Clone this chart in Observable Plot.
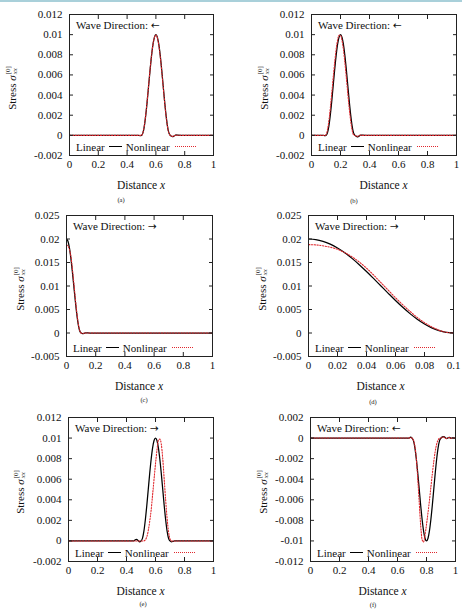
<!DOCTYPE html>
<html><head><meta charset="utf-8">
<script src="https://cdn.jsdelivr.net/npm/d3@7"></script>
<script src="https://cdn.jsdelivr.net/npm/@observablehq/plot@0.6"></script>
<style>
body{margin:0;background:#fff;}
#root{position:relative;width:462px;height:611px;overflow:hidden;font-family:'Liberation Serif',serif;color:#111;background:#fff;}
#stripe{position:absolute;left:0;top:0;width:462px;height:2px;background:#a9d0da;}
.plot{position:absolute;}
.ylab{position:absolute;white-space:nowrap;font-size:11px;display:flex;align-items:center;transform:translate(-50%,-50%) rotate(-90deg);}
.ss{display:inline-flex;flex-direction:column;font-size:7px;line-height:7px;margin-left:1px;}
.xlab{position:absolute;white-space:nowrap;font-size:11.5px;transform:translate(-50%,-50%);}
.cap{position:absolute;white-space:nowrap;font-size:6.5px;transform:translate(-50%,-50%);}
.dir{position:absolute;white-space:nowrap;font-size:11px;transform:translateY(-50%);}
.arr{font-family:'DejaVu Sans',sans-serif;font-size:10.5px;}
.leg{position:absolute;white-space:nowrap;font-size:11px;display:flex;align-items:center;transform:translateY(-50%);}
.sl{display:inline-block;width:13px;height:0;border-top:1.3px solid #000;margin:0 4px 0 4px;}
.sn{display:inline-block;width:21px;height:0;border-top:1.2px dotted #e0282e;margin-left:5px;}
</style></head><body><div id="root"><div id="stripe"></div></div>
<script>
// ---------- tick values & labels ----------
const xTicks01 = [0, 0.2, 0.4, 0.6, 0.8, 1];
const xLabels01 = ["0", "0.2", "0.4", "0.6", "0.8", "1"];
const xTicksD = [0, 0.02, 0.04, 0.06, 0.08, 0.1];
const xLabelsD = ["0", "0.02", "0.04", "0.06", "0.08", "0.1"];
const yTicksA = [-0.002, 0, 0.002, 0.004, 0.006, 0.008, 0.01, 0.012];
const yLabelsA = ["-0.002", "0", "0.002", "0.004", "0.006", "0.008", "0.01", "0.012"];
const yTicksC = [-0.005, 0, 0.005, 0.01, 0.015, 0.02, 0.025];
const yLabelsC = ["-0.005", "0", "0.005", "0.01", "0.015", "0.02", "0.025"];
const yTicksF = [-0.012, -0.01, -0.008, -0.006, -0.004, -0.002, 0, 0.002];
const yLabelsF = ["-0.012", "-0.01", "-0.008", "-0.006", "-0.004", "-0.002", "0", "0.002"];

const captions = ["(a)", "(b)", "(c)", "(d)", "(e)", "(f)"];
const directionLabel = "Wave Direction:";
const directionArrows = ["\u2190", "\u2190", "\u2192", "\u2192", "\u2192", "\u2190"];
const seriesNames = ["Linear", "Nonlinear"];

// ---------- series (a) ----------
const xA = [0, 0.40, 0.48, 0.49, 0.50, 0.51, 0.52, 0.53, 0.54, 0.55, 0.56, 0.57, 0.58, 0.59, 0.60, 0.61, 0.62, 0.63, 0.64, 0.65, 0.66, 0.67, 0.68, 0.69, 0.70, 0.71, 0.72, 0.73, 0.74, 0.75, 0.80, 1];
const linA = [0, 0, 0, -0.00003, 0, 0.00025, 0.00095, 0.00206, 0.00345, 0.005, 0.00655, 0.00794, 0.00905, 0.00976, 0.01, 0.00976, 0.00905, 0.00794, 0.00655, 0.005, 0.00345, 0.00206, 0.00095, 0.00025, 0, -0.0001, -0.00012, -0.00002, 0.00004, 0.00002, 0, 0];
const nonA = [0, 0, 0, 0, 0, 0.00028, 0.001, 0.00212, 0.00352, 0.00507, 0.0066, 0.00797, 0.00905, 0.00973, 0.00995, 0.00969, 0.00897, 0.00786, 0.00648, 0.00493, 0.0034, 0.00202, 0.00093, 0.00024, 0, -0.00008, -0.0001, -0.00002, 0.00003, 0.00001, 0, 0];

// ---------- series (b) ----------
const xB = [0, 0.05, 0.08, 0.09, 0.10, 0.11, 0.12, 0.13, 0.14, 0.15, 0.16, 0.17, 0.18, 0.19, 0.20, 0.21, 0.22, 0.23, 0.24, 0.25, 0.26, 0.27, 0.28, 0.29, 0.30, 0.31, 0.32, 0.33, 0.34, 0.35, 0.40, 1];
const linB = [0, 0, 0, -0.00003, 0, 0.00025, 0.00095, 0.00206, 0.00345, 0.005, 0.00655, 0.00794, 0.00905, 0.00976, 0.01, 0.00976, 0.00905, 0.00794, 0.00655, 0.005, 0.00345, 0.00206, 0.00095, 0.00025, 0, -0.0001, -0.00015, -0.00005, 0.00003, 0.00002, 0, 0];
const nonB = [0, 0, 0, 0, 0.00006, 0.00055, 0.00146, 0.00273, 0.00422, 0.00578, 0.00727, 0.00854, 0.00946, 0.00994, 0.00994, 0.00946, 0.00854, 0.00727, 0.00578, 0.00422, 0.00273, 0.00146, 0.00055, 0.00006, 0, -0.0001, -0.00008, 0, 0.00002, 0, 0, 0];

// ---------- series (c) ----------
const xC = [0, 0.01, 0.02, 0.03, 0.04, 0.05, 0.06, 0.07, 0.08, 0.09, 0.10, 0.11, 0.12, 0.13, 0.14, 0.16, 0.20, 1];
const linC = [0.02, 0.01951, 0.01809, 0.01588, 0.01309, 0.01, 0.00691, 0.00412, 0.00191, 0.00049, 0, -0.00012, -0.00008, 0.00003, 0.00002, 0, 0, 0];
const nonC = [0.0188, 0.0185, 0.0178, 0.0163, 0.0138, 0.0107, 0.0075, 0.0045, 0.0021, 0.0006, 0, -0.0001, -0.00005, 0.00002, 0, 0, 0, 0];

// ---------- series (d) ----------
const xD = [0, 0.005, 0.01, 0.015, 0.02, 0.025, 0.03, 0.035, 0.04, 0.045, 0.05, 0.055, 0.06, 0.065, 0.07, 0.075, 0.08, 0.085, 0.09, 0.095, 0.1];
const linD = [0.02, 0.01988, 0.01951, 0.01891, 0.01809, 0.01707, 0.01588, 0.01454, 0.01309, 0.01156, 0.01, 0.00844, 0.00691, 0.00546, 0.00412, 0.00293, 0.00191, 0.00109, 0.00049, 0.00012, 0];
const nonD = [0.0188, 0.01875, 0.01855, 0.01825, 0.0178, 0.0171, 0.0162, 0.0151, 0.0138, 0.0123, 0.0107, 0.0091, 0.0075, 0.006, 0.0046, 0.0033, 0.0022, 0.0013, 0.0006, 0.00015, 0];

// ---------- series (e) ----------
const xE = [0, 0.40, 0.45, 0.46, 0.47, 0.48, 0.49, 0.50, 0.51, 0.52, 0.53, 0.54, 0.55, 0.56, 0.57, 0.58, 0.59, 0.60, 0.61, 0.62, 0.63, 0.64, 0.65, 0.66, 0.67, 0.68, 0.69, 0.70, 0.71, 0.72, 0.73, 0.74, 0.75, 0.80, 1];
const linE = [0, 0, 0, 0.0001, 0.00014, 0.00004, -0.0001, 0, 0.00025, 0.00095, 0.00206, 0.00345, 0.005, 0.00655, 0.00794, 0.00905, 0.00976, 0.01, 0.00976, 0.00905, 0.00794, 0.00655, 0.005, 0.00345, 0.00206, 0.00095, 0.00025, 0, -0.00008, -0.00005, 0, 0, 0, 0, 0];
const nonE = [0, 0, 0, 0, 0, 0, 0, 0, 0, 0, 0.0001, 0.0004, 0.001, 0.0019, 0.003, 0.0045, 0.006, 0.0075, 0.0088, 0.0098, 0.0099, 0.0094, 0.008, 0.006, 0.004, 0.0022, 0.0009, 0.0002, 0, 0, 0, 0, 0, 0, 0];

// ---------- series (f) ----------
const xF = [0, 0.50, 0.68, 0.69, 0.70, 0.71, 0.72, 0.73, 0.74, 0.75, 0.76, 0.77, 0.78, 0.79, 0.80, 0.81, 0.82, 0.83, 0.84, 0.85, 0.86, 0.87, 0.88, 0.89, 0.90, 0.91, 0.92, 0.93, 0.94, 0.95, 0.96, 0.97, 0.98, 0.99, 1];
const linF = [0, 0, 0, 0.0001, 0, -0.00025, -0.00095, -0.00206, -0.00345, -0.005, -0.00655, -0.00794, -0.00905, -0.00976, -0.01, -0.00976, -0.00905, -0.00794, -0.00655, -0.005, -0.00345, -0.00206, -0.00095, -0.00025, 0, 0.00012, 0.00015, 0.00002, -0.00006, 0.00004, 0.00006, -0.00004, 0.00003, 0, 0];
const nonF = [0, 0, 0, 0.00005, 0, -0.0002, -0.0008, -0.002, -0.004, -0.0063, -0.0085, -0.0099, -0.0101, -0.0094, -0.0084, -0.0073, -0.0061, -0.0048, -0.0035, -0.0023, -0.0013, -0.0006, -0.0002, 0, 0, 0.00008, 0.0001, 0, -0.00004, 0.00003, 0.00004, -0.00002, 0.00002, 0, 0];

// ---------- layout ----------
const FONT = "'Liberation Serif',serif";
const RED = "#e0282e";
const ML = 50, MR = 10, MT = 10, MB = 30;

const panels = [
  {l: 69, t: 14, r: 213, b: 155, xs: xA, lin: linA, non: nonA, xD: [0, 1], xT: xTicks01, xL: xLabels01, yD: [-0.002, 0.012], yT: yTicksA, yL: yLabelsA, ylx: 12, capx: 121, capy: 199},
  {l: 311, t: 14, r: 456, b: 155, xs: xB, lin: linB, non: nonB, xD: [0, 1], xT: xTicks01, xL: xLabels01, yD: [-0.002, 0.012], yT: yTicksA, yL: yLabelsA, ylx: 264, capx: 354, capy: 200},
  {l: 66, t: 215, r: 212, b: 356, xs: xC, lin: linC, non: nonC, xD: [0, 1], xT: xTicks01, xL: xLabels01, yD: [-0.005, 0.025], yT: yTicksC, yL: yLabelsC, ylx: 20, capx: 144, capy: 399},
  {l: 308, t: 215, r: 453, b: 356, xs: xD, lin: linD, non: nonD, xD: [0, 0.1], xT: xTicksD, xL: xLabelsD, yD: [-0.005, 0.025], yT: yTicksC, yL: yLabelsC, ylx: 262, capx: 373, capy: 401},
  {l: 68, t: 417, r: 213, b: 561, xs: xE, lin: linE, non: nonE, xD: [0, 1], xT: xTicks01, xL: xLabels01, yD: [-0.002, 0.012], yT: yTicksA, yL: yLabelsA, ylx: 20, capx: 143, capy: 603},
  {l: 310, t: 417, r: 455, b: 561, xs: xF, lin: linF, non: nonF, xD: [0, 1], xT: xTicks01, xL: xLabels01, yD: [-0.012, 0.002], yT: yTicksF, yL: yLabelsF, ylx: 263, capx: 373, capy: 604}
];

const root = document.getElementById("root");

panels.forEach((p, k) => {
  const idx = d3.range(p.xs.length);
  const w = p.r - p.l + ML + MR, h = p.b - p.t + MT + MB;
  const fx = d => p.xL[p.xT.indexOf(d)];
  const fy = d => p.yL[p.yT.indexOf(d)];
  const blank = () => "";
  const svg = Plot.plot({
    width: w, height: h,
    marginLeft: ML, marginRight: MR, marginTop: MT, marginBottom: MB,
    x: {domain: p.xD},
    y: {domain: p.yD},
    style: {fontFamily: FONT, fontSize: "11px", background: "transparent", color: "#111", overflow: "visible"},
    marks: [
      Plot.line(idx, {x: i => p.xs[i], y: i => p.lin[i], stroke: "#000", strokeWidth: 1.25, curve: "monotone-x", clip: true}),
      Plot.line(idx, {x: i => p.xs[i], y: i => p.non[i], stroke: RED, strokeWidth: 1.1, strokeDasharray: "1.3,1.5", curve: "monotone-x", clip: true}),
      Plot.frame({stroke: "#222", strokeWidth: 1}),
      Plot.axisX({anchor: "bottom", ticks: p.xT, tickSize: -4, tickFormat: blank, label: null, stroke: "#222"}),
      Plot.axisX({anchor: "top", ticks: p.xT, tickSize: -4, tickFormat: blank, label: null, stroke: "#222"}),
      Plot.axisY({anchor: "left", ticks: p.yT, tickSize: -4, tickFormat: blank, label: null, stroke: "#222"}),
      Plot.axisY({anchor: "right", ticks: p.yT, tickSize: -4, tickFormat: blank, label: null, stroke: "#222"}),
      Plot.axisX({anchor: "bottom", ticks: p.xT, tickSize: 0, tickPadding: 5, tickFormat: fx, label: null, fill: "#111"}),
      Plot.axisY({anchor: "left", ticks: p.yT, tickSize: 0, tickPadding: 7, tickFormat: fy, label: null, fill: "#111"})
    ]
  });
  svg.classList.add("plot");
  svg.style.left = (p.l - ML) + "px";
  svg.style.top = (p.t - MT) + "px";
  root.appendChild(svg);

  // wave direction
  const dr = document.createElement("div");
  dr.className = "dir";
  dr.innerHTML = `${directionLabel} <span class="arr">${directionArrows[k]}</span>`;
  dr.style.left = (p.l + 7) + "px";
  dr.style.top = (p.t + 11) + "px";
  root.appendChild(dr);

  // y label
  const yl = document.createElement("div");
  yl.className = "ylab";
  yl.innerHTML = 'Stress&nbsp;<i>\u03c3</i><span class="ss"><span>[0]</span><span><i>xx</i></span></span>';
  yl.style.left = p.ylx + "px";
  yl.style.top = ((p.t + p.b) / 2 + 3) + "px";
  root.appendChild(yl);

  // x label
  const xl = document.createElement("div");
  xl.className = "xlab";
  xl.innerHTML = 'Distance <i>x</i>';
  xl.style.left = ((p.l + p.r) / 2) + "px";
  xl.style.top = (p.b + 29.5) + "px";
  root.appendChild(xl);

  // legend
  const lg = document.createElement("div");
  lg.className = "leg";
  lg.innerHTML = `<span>${seriesNames[0]}</span><span class="sl"></span><span>${seriesNames[1]}</span><span class="sn"></span>`;
  lg.style.left = (p.l + 7) + "px";
  lg.style.top = (p.b - 8.5) + "px";
  root.appendChild(lg);

  // caption
  const cp = document.createElement("div");
  cp.className = "cap";
  cp.textContent = captions[k];
  cp.style.left = p.capx + "px";
  cp.style.top = p.capy + "px";
  root.appendChild(cp);
});
</script>
</body></html>
